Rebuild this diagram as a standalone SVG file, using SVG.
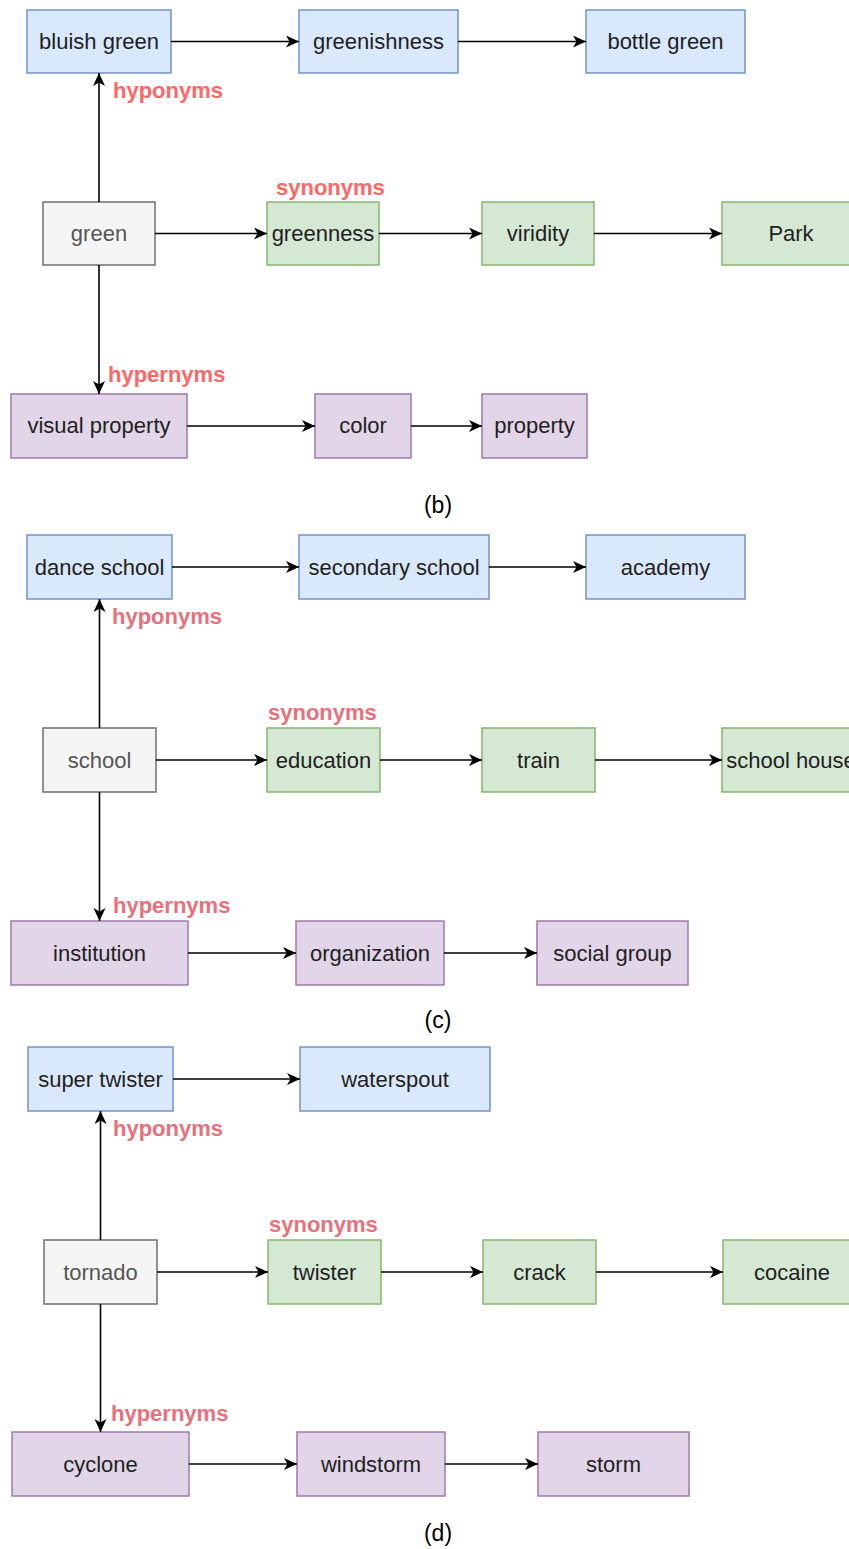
<svg xmlns="http://www.w3.org/2000/svg" width="849" height="1549" viewBox="0 0 849 1549">
  <style>
    .box rect { stroke-width: 1.4; }
    .blue rect { fill: #dae8fc; stroke: #6c8ebf; }
    .green rect { fill: #d5e8d4; stroke: #82b366; }
    .purple rect { fill: #e1d5e7; stroke: #9673a6; }
    .grey rect { fill: #f5f5f5; stroke: #666666; }
    .box text { font-family: "Liberation Sans", Arial, sans-serif; font-size: 22px; text-anchor: middle; fill: #1f1f1f; }
    .grey text { fill: #555555; }
    .lbl { font-family: "Liberation Sans", Arial, sans-serif; font-size: 22px; font-weight: bold; fill: #ff6666; }
    .lbl2 { fill: #e8707c; }
    .cap { font-family: "Liberation Sans", Arial, sans-serif; font-size: 23px; text-anchor: middle; fill: #000; }
    .edges line { stroke: #000; stroke-width: 1.6; fill: none; marker-end: url(#arr); }
  </style>
  <defs>
    <marker id="arr" markerUnits="userSpaceOnUse" markerWidth="16" markerHeight="14" refX="13" refY="6" orient="auto">
      <path d="M0,0 L13,6 L0,12 L3.5,6 Z" fill="#000"/>
    </marker>
  </defs>
  <rect width="849" height="1549" fill="#ffffff"/>

  <!-- (b) green -->
  <g id="b-bluish-green" class="box blue"><rect x="27" y="10" width="144" height="63"/><text x="99" y="49">bluish green</text></g>
  <g id="b-greenishness" class="box blue"><rect x="299" y="10" width="159" height="63"/><text x="378.5" y="49">greenishness</text></g>
  <g id="b-bottle-green" class="box blue"><rect x="586" y="10" width="159" height="63"/><text x="665.5" y="49">bottle green</text></g>
  <g id="b-green" class="box grey"><rect x="43" y="202" width="112" height="63"/><text x="99" y="241">green</text></g>
  <g id="b-greenness" class="box green"><rect x="267" y="202" width="112" height="63"/><text x="323" y="241">greenness</text></g>
  <g id="b-viridity" class="box green"><rect x="482" y="202" width="112" height="63"/><text x="538" y="241">viridity</text></g>
  <g id="b-park" class="box green"><rect x="722" y="202" width="138" height="63"/><text x="791" y="241">Park</text></g>
  <g id="b-visual-property" class="box purple"><rect x="11" y="394" width="176" height="64"/><text x="99" y="433">visual property</text></g>
  <g id="b-color" class="box purple"><rect x="315" y="394" width="96" height="64"/><text x="363" y="433">color</text></g>
  <g id="b-property" class="box purple"><rect x="482" y="394" width="105" height="64"/><text x="534.5" y="433">property</text></g>

  <!-- (c) school -->
  <g id="c-dance-school" class="box blue"><rect x="27" y="535" width="145" height="64"/><text x="99.5" y="574.5">dance school</text></g>
  <g id="c-secondary-school" class="box blue"><rect x="299" y="535" width="190" height="64"/><text x="394" y="574.5">secondary school</text></g>
  <g id="c-academy" class="box blue"><rect x="586" y="535" width="159" height="64"/><text x="665.5" y="574.5">academy</text></g>
  <g id="c-school" class="box grey"><rect x="43" y="728" width="113" height="64"/><text x="99.5" y="767.5">school</text></g>
  <g id="c-education" class="box green"><rect x="267" y="728" width="113" height="64"/><text x="323.5" y="767.5">education</text></g>
  <g id="c-train" class="box green"><rect x="482" y="728" width="113" height="64"/><text x="538.5" y="767.5">train</text></g>
  <!-- the box runs past the right edge, so its label is clipped there -->
  <g id="c-school-house" class="box green"><rect x="722" y="728" width="138" height="64"/><text x="791" y="767.5">school house</text></g>
  <g id="c-institution" class="box purple"><rect x="11" y="921" width="177" height="64"/><text x="99.5" y="960.5">institution</text></g>
  <g id="c-organization" class="box purple"><rect x="296" y="921" width="148" height="64"/><text x="370" y="960.5">organization</text></g>
  <g id="c-social-group" class="box purple"><rect x="537" y="921" width="151" height="64"/><text x="612.5" y="960.5">social group</text></g>

  <!-- (d) tornado -->
  <g id="d-super-twister" class="box blue"><rect x="28" y="1047" width="145" height="64"/><text x="100.5" y="1086.5">super twister</text></g>
  <g id="d-waterspout" class="box blue"><rect x="300" y="1047" width="190" height="64"/><text x="395" y="1086.5">waterspout</text></g>
  <g id="d-tornado" class="box grey"><rect x="44" y="1240" width="113" height="64"/><text x="100.5" y="1279.5">tornado</text></g>
  <g id="d-twister" class="box green"><rect x="268" y="1240" width="113" height="64"/><text x="324.5" y="1279.5">twister</text></g>
  <g id="d-crack" class="box green"><rect x="483" y="1240" width="113" height="64"/><text x="539.5" y="1279.5">crack</text></g>
  <g id="d-cocaine" class="box green"><rect x="723" y="1240" width="138" height="64"/><text x="792" y="1279.5">cocaine</text></g>
  <g id="d-cyclone" class="box purple"><rect x="12" y="1432" width="177" height="64"/><text x="100.5" y="1471.5">cyclone</text></g>
  <g id="d-windstorm" class="box purple"><rect x="297" y="1432" width="148" height="64"/><text x="371" y="1471.5">windstorm</text></g>
  <g id="d-storm" class="box purple"><rect x="538" y="1432" width="151" height="64"/><text x="613.5" y="1471.5">storm</text></g>

  <!-- connectors -->
  <g id="edges" class="edges">
    <line x1="171" y1="41.5" x2="299" y2="41.5"/>
    <line x1="458" y1="41.5" x2="586" y2="41.5"/>
    <line x1="99" y1="202" x2="99" y2="73"/>
    <line x1="155" y1="233.5" x2="267" y2="233.5"/>
    <line x1="379" y1="233.5" x2="482" y2="233.5"/>
    <line x1="594" y1="233.5" x2="722" y2="233.5"/>
    <line x1="99" y1="265" x2="99" y2="394"/>
    <line x1="187" y1="426" x2="315" y2="426"/>
    <line x1="411" y1="426" x2="482" y2="426"/>

    <line x1="172" y1="567" x2="299" y2="567"/>
    <line x1="489" y1="567" x2="586" y2="567"/>
    <line x1="99.5" y1="728" x2="99.5" y2="599"/>
    <line x1="156" y1="760" x2="267" y2="760"/>
    <line x1="380" y1="760" x2="482" y2="760"/>
    <line x1="595" y1="760" x2="722" y2="760"/>
    <line x1="99.5" y1="792" x2="99.5" y2="921"/>
    <line x1="188" y1="953" x2="296" y2="953"/>
    <line x1="444" y1="953" x2="537" y2="953"/>

    <line x1="173" y1="1079" x2="300" y2="1079"/>
    <line x1="100.5" y1="1240" x2="100.5" y2="1111"/>
    <line x1="157" y1="1272" x2="268" y2="1272"/>
    <line x1="381" y1="1272" x2="483" y2="1272"/>
    <line x1="596" y1="1272" x2="723" y2="1272"/>
    <line x1="100.5" y1="1304" x2="100.5" y2="1432"/>
    <line x1="189" y1="1464" x2="297" y2="1464"/>
    <line x1="445" y1="1464" x2="538" y2="1464"/>
  </g>

  <!-- relation labels -->
  <text class="lbl" x="113" y="98">hyponyms</text>
  <text class="lbl" x="276" y="195">synonyms</text>
  <text class="lbl" x="108" y="382">hypernyms</text>

  <text class="lbl lbl2" x="112" y="624">hyponyms</text>
  <text class="lbl lbl2" x="268" y="720">synonyms</text>
  <text class="lbl lbl2" x="113" y="913">hypernyms</text>

  <text class="lbl lbl2" x="113" y="1136">hyponyms</text>
  <text class="lbl lbl2" x="269" y="1232">synonyms</text>
  <text class="lbl lbl2" x="111" y="1421">hypernyms</text>

  <!-- captions -->
  <text class="cap" x="438" y="513">(b)</text>
  <text class="cap" x="438" y="1028">(c)</text>
  <text class="cap" x="438" y="1541">(d)</text>
</svg>
